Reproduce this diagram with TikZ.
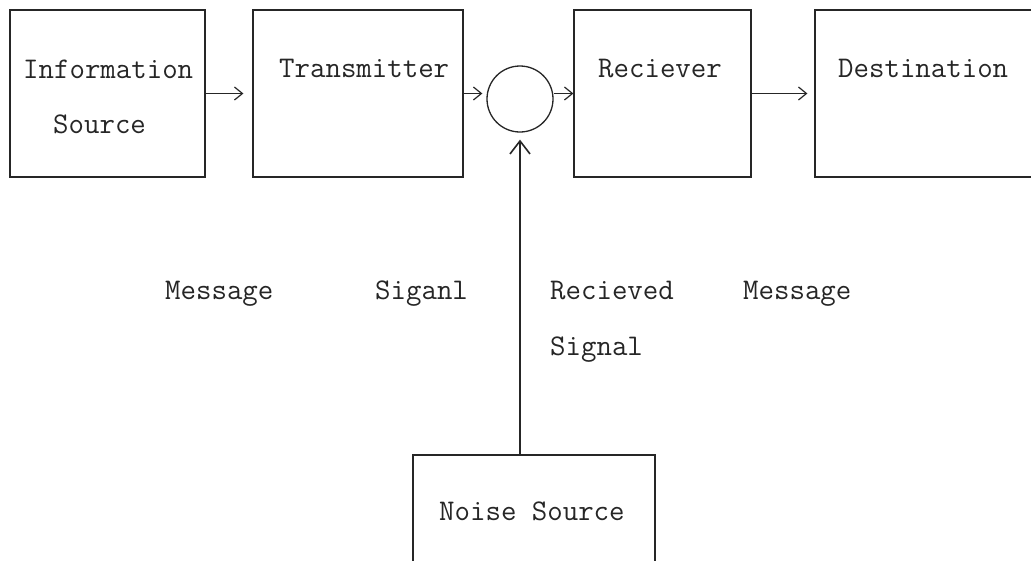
\documentclass[tikz,border=0pt]{standalone}
\usetikzlibrary{arrows.meta}
\begin{document}
\begin{tikzpicture}[x=1pt,y=-1pt,
  blockbox/.style={draw=black!85,line width=1.2pt,inner sep=0pt,rectangle},
  lbl/.style={anchor=base west,inner sep=0pt,font=\fontsize{30}{36}\selectfont\ttfamily,text=black!85},
  arr/.style={draw=black!85,line width=1.2pt,-{Straight Barb[length=8pt,width=13pt,line width=1.2pt]}},
  bigarr/.style={draw=black!85,line width=1.4pt,-{Straight Barb[length=13pt,width=20pt,line width=1.6pt]}}]
\useasboundingbox (0,0) rectangle (1031,560);
\clip (0,0) rectangle (1031,560);
\fill[white] (0,0) rectangle (1031,560);
% blocks
\node[blockbox,minimum width=195pt,minimum height=167pt] (info) at (107.5,93.5) {};
\node[blockbox,minimum width=210pt,minimum height=167pt] (trans) at (358,93.5) {};
\node[circle,draw=black!85,line width=1.3pt,minimum size=66pt,inner sep=0pt] (circ) at (520,99) {};
\node[blockbox,minimum width=177pt,minimum height=167pt] (rec) at (662.5,93.5) {};
\node[blockbox,minimum width=240pt,minimum height=167pt] (dest) at (935,93.5) {};
\node[blockbox,minimum width=242pt,minimum height=130pt] (noise) at (534,520) {};
% block texts
\node[lbl] (tinfo1) at (23,78) {Information};
\node[lbl] (tinfo2) at (53,133) {Source};
\node[lbl] (ttrans) at (279,77) {Transmitter};
\node[lbl] (trec) at (598,77) {Reciever};
\node[lbl] (tdest) at (838,77) {Destination};
\node[lbl] (tnoise) at (439,520) {Noise Source};
% signal labels
\node[lbl] (lmsg1) at (165,299) {Message};
\node[lbl] (lsig) at (375,299) {Siganl};
\node[lbl] (lrec1) at (550,299) {Recieved};
\node[lbl] (lrec2) at (550,355) {Signal};
\node[lbl] (lmsg2) at (743,299) {Message};
% connectors
\draw[arr,shorten >=9pt] (info.east) -- (trans.west);
\draw[arr,shorten >=4pt] (trans.east) -- (trans.east -| circ.west);
\draw[arr] (circ.east |- rec.west) -- (rec.west);
\draw[arr,shorten >=7pt] (rec.east) -- (dest.west);
\draw[bigarr,shorten >=7pt] (circ.south |- noise.north) -- (circ.south);
\end{tikzpicture}
\end{document}
